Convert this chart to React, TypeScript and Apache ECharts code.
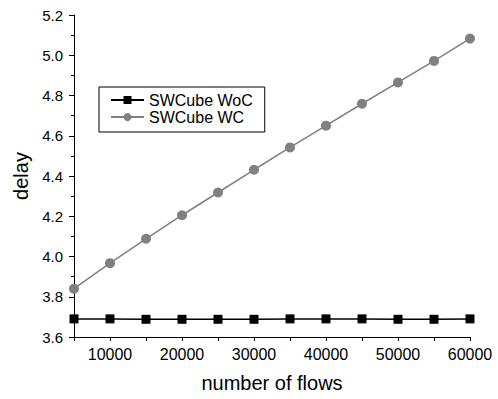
import React, { useEffect, useRef } from "react";
import * as echarts from "echarts";

const flows = [5000, 10000, 15000, 20000, 25000, 30000, 35000, 40000, 45000, 50000, 55000, 60000];
const wocDelay = [3.69, 3.69, 3.688, 3.688, 3.688, 3.688, 3.69, 3.69, 3.69, 3.688, 3.688, 3.69];
const wcDelay = [3.84, 3.967, 4.088, 4.205, 4.318, 4.431, 4.542, 4.65, 4.759, 4.865, 4.972, 5.083];
const seriesNames = ["SWCube WoC", "SWCube WC"];

const FONT = "'Liberation Sans', Arial, sans-serif";

export default function App() {
  const ref = useRef<HTMLDivElement>(null);
  useEffect(() => {
    if (!ref.current) return;
    const chart = echarts.init(ref.current, null, { renderer: "svg" });
    chart.setOption({
      animation: false,
      backgroundColor: "#ffffff",
      textStyle: { fontFamily: FONT },
      grid: { left: 74, right: 28, top: 15, bottom: 62, containLabel: false },
      legend: {
        left: 99,
        top: 87,
        orient: "vertical",
        data: seriesNames,
        itemWidth: 33,
        itemHeight: 10,
        itemGap: 1,
        padding: [5, 12, 7, 11],
        borderColor: "#000",
        borderWidth: 1,
        borderRadius: 0,
        textStyle: { color: "#000", fontSize: 16, fontFamily: FONT, lineHeight: 12, padding: [0, 0, 0, 0] },
      },
      xAxis: {
        type: "value",
        min: 5000,
        max: 60000,
        interval: 5000,
        name: "number of flows",
        nameLocation: "middle",
        nameGap: 36,
        nameTextStyle: { color: "#000", fontSize: 20, fontFamily: FONT },
        axisLine: { show: true, onZero: false, lineStyle: { color: "#000", width: 1 } },
        axisTick: { show: true, length: 4, lineStyle: { color: "#000" } },
        splitLine: { show: false },
        axisLabel: {
          color: "#000",
          fontSize: 16,
          fontFamily: FONT,
          margin: 9,
          showMinLabel: true,
          formatter: (v: number) => (v % 10000 === 0 ? String(v) : ""),
        },
      },
      yAxis: {
        type: "value",
        min: 3.6,
        max: 5.2,
        interval: 0.2,
        name: "delay",
        nameLocation: "middle",
        nameGap: 42,
        nameTextStyle: { color: "#000", fontSize: 20, fontFamily: FONT },
        axisLine: { show: true, lineStyle: { color: "#000", width: 1 } },
        axisTick: { show: true, length: 5, lineStyle: { color: "#000" } },
        minorTick: { show: true, splitNumber: 2, length: 3, lineStyle: { color: "#000" } },
        splitLine: { show: false },
        axisLabel: {
          color: "#000",
          fontSize: 15,
          fontFamily: FONT,
          margin: 11,
          formatter: (v: number) => v.toFixed(1),
        },
      },
      series: [
        {
          name: seriesNames[0],
          type: "line",
          data: flows.map((f, i) => [f, wocDelay[i]]),
          symbol: "rect",
          symbolSize: 9,
          color: "#000",
          lineStyle: { color: "#000", width: 1.5 },
          itemStyle: { color: "#000" },
          z: 3,
        },
        {
          name: seriesNames[1],
          type: "line",
          data: flows.map((f, i) => [f, wcDelay[i]]),
          symbol: "circle",
          symbolSize: 10,
          color: "#808080",
          lineStyle: { color: "#808080", width: 1.5 },
          itemStyle: { color: "#808080" },
          z: 2,
        },
      ],
    });
    return () => chart.dispose();
  }, []);
  return (
    <div
      ref={ref}
      style={{ position: "fixed", left: 0, top: 0, width: 498, height: 399, background: "#fff" }}
    />
  );
}
